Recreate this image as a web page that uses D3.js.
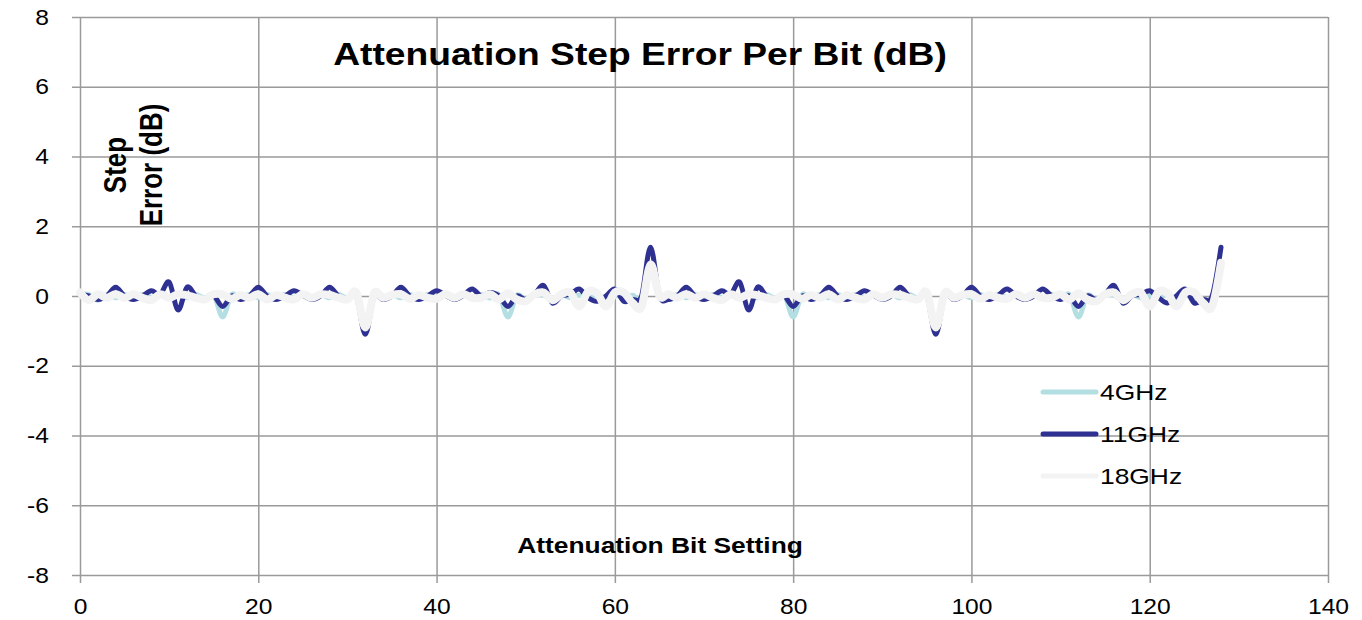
<!DOCTYPE html>
<html>
<head>
<meta charset="utf-8">
<script src="https://cdn.jsdelivr.net/npm/d3@7"></script>
<style>
  body { margin: 0; background: #fff; }
  svg { display: block; font-family: "Liberation Sans", Arial, sans-serif; }
  .axis .domain { display: none; }
  .axis line, .grid-line { stroke: #9a9a9a; stroke-width: 1.5; }
  .axis text { fill: #000; font-size: 22px; }
  .series { fill: none; stroke-linejoin: round; stroke-linecap: round; }
</style>
</head>
<body>
<div id="chart"></div>
<script>
// attenuator bit settings 0..128
var bitSetting = d3.range(0, 129);

var seriesNames = ['4GHz', '11GHz', '18GHz'];

// step error (dB), 16 settings per row
var err4GHz = [
  0.05, 0.04, -0.12, 0.04, -0.05, 0.04, -0.06, 0.04, -0.04, 0.04, -0.05, 0.04, -0.05, 0.04, -0.06, 0.04,
  -0.6, 0.04, -0.06, 0.04, -0.05, 0.04, -0.06, 0.04, -0.04, 0.04, -0.05, 0.04, -0.05, 0.04, -0.06, 0.02,
  -0.8, 0.02, -0.06, 0.04, -0.05, 0.04, -0.06, 0.04, -0.04, 0.04, -0.05, 0.04, -0.05, 0.04, -0.06, 0.04,
  -0.6, 0.02, -0.1, 0.04, 0.02, -0.08, 0.04, -0.05, 0.02, -0.05, 0.04, -0.06, 0.03, -0.05, 0.02, -0.04,
  0.9, 0.04, -0.06, 0.04, -0.05, 0.04, -0.06, 0.04, -0.04, 0.04, -0.05, 0.04, -0.05, 0.04, -0.06, 0.04,
  -0.6, 0.04, -0.06, 0.04, -0.05, 0.04, -0.06, 0.04, -0.04, 0.04, -0.05, 0.04, -0.05, 0.04, -0.06, 0.02,
  -0.8, 0.02, -0.06, 0.04, -0.05, 0.04, -0.06, 0.04, -0.04, 0.04, -0.05, 0.04, -0.05, 0.04, -0.06, 0.04,
  -0.6, 0.02, -0.1, 0.04, 0.02, -0.12, 0.04, -0.05, 0.02, -0.05, 0.04, -0.06, 0.03, -0.08, -0.12, -0.04,
  0.9
];

var err11GHz = [
  0.05, 0, -0.1, 0, 0.25, 0, -0.1, 0, 0.15, 0.05, 0.4, -0.4, 0.25, 0, -0.1, 0,
  -0.3, 0, -0.1, 0, 0.25, 0, -0.1, 0, 0.15, 0.02, -0.1, 0, 0.25, 0, -0.1, 0,
  -1.1, 0, -0.1, 0, 0.25, 0, -0.1, 0, 0.15, 0.02, -0.1, 0.02, 0.2, 0, 0.1, 0,
  -0.3, 0, -0.1, 0.05, 0.3, -0.2, 0, 0.05, 0.2, -0.05, -0.15, 0, 0.2, -0.15, -0.1, 0,
  1.4, 0, -0.1, 0, 0.25, 0, -0.1, 0, 0.15, 0.05, 0.4, -0.4, 0.25, 0, -0.1, 0,
  -0.3, 0, -0.1, 0, 0.25, 0, -0.1, 0, 0.15, 0.02, -0.1, 0, 0.25, 0, -0.1, 0,
  -1.1, 0, -0.1, 0, 0.25, 0, -0.1, 0.02, 0.2, 0, -0.1, 0, 0.2, 0, -0.1, 0,
  -0.3, 0, -0.1, 0.05, 0.3, -0.2, 0, 0.05, 0.15, -0.05, -0.2, 0, 0.2, -0.2, -0.1, 0,
  1.4
];

var err18GHz = [
  0.1, -0.12, 0.05, -0.05, 0.05, -0.05, 0.05, -0.05, -0.12, 0.05, -0.05, 0.05, 0.02, -0.05, -0.1, 0.05,
  0.05, -0.08, 0.03, -0.05, 0.05, -0.1, 0.03, -0.05, -0.1, 0.05, -0.05, 0.05, 0.03, -0.05, -0.1, 0.1,
  -0.9, 0.08, -0.05, 0.03, 0.05, -0.08, 0.03, -0.05, -0.08, 0.05, -0.05, 0.05, -0.05, -0.05, 0.05, -0.1,
  0.08, -0.1, -0.15, 0.05, 0.1, -0.12, 0.05, 0.1, -0.3, 0.12, 0.08, -0.3, 0.1, 0.1, -0.2, -0.3,
  0.9, 0, 0.05, -0.05, 0.05, -0.05, 0.05, -0.05, -0.12, 0.05, -0.05, 0.05, 0.02, -0.05, -0.1, 0.05,
  0.05, -0.08, 0.03, -0.05, 0.05, -0.1, 0.03, -0.05, -0.1, 0.05, -0.05, 0.05, 0.03, -0.05, -0.1, 0.1,
  -0.9, 0.08, -0.05, 0.03, 0.05, -0.08, 0.03, -0.05, -0.08, 0.05, -0.05, 0.05, -0.05, -0.05, 0.05, -0.1,
  0.08, -0.1, -0.15, 0.05, 0.1, -0.12, 0.05, 0.1, -0.3, 0.12, 0.08, -0.3, 0.1, 0.1, -0.2, -0.3,
  0.95
];

var xTicks = [0, 20, 40, 60, 80, 100, 120, 140];
var yTicks = [-8, -6, -4, -2, 0, 2, 4, 6, 8];

var seriesColors = ['#b3dee2', '#2e3192', '#f3f3f3'];
var seriesWidths = [5, 5, 8];

var width = 1362;
var height = 620;
var plotLeft = 80, plotRight = 1328, plotTop = 17, plotBottom = 575;
var stretch = 1.2; // the text in the picture is drawn wide

var svg = d3.select('#chart')
  .append('svg')
  .attr('width', width)
  .attr('height', height);

var scaleX = d3.scaleLinear().domain([0, 140]).range([plotLeft, plotRight]);
var scaleY = d3.scaleLinear().domain([-8, 8]).range([plotBottom, plotTop]);

// plain hyphen for negatives, like the original
var plainNumber = function(d) { return String(d); };

var xAxis = d3.axisBottom(scaleX)
  .tickValues(xTicks)
  .tickFormat(plainNumber)
  .tickSizeInner(8)
  .tickSizeOuter(0)
  .tickPadding(15);
var yAxis = d3.axisLeft(scaleY)
  .tickValues(yTicks)
  .tickFormat(plainNumber)
  .tickSizeInner(8)
  .tickSizeOuter(0)
  .tickPadding(23);

var gX = svg.append('g')
  .attr('class', 'axis axis-x')
  .attr('transform', 'translate(0,' + plotBottom + ')')
  .call(xAxis);
var gY = svg.append('g')
  .attr('class', 'axis axis-y')
  .attr('transform', 'translate(' + plotLeft + ',0)')
  .call(yAxis);

// grid lines hang off the ticks
gX.selectAll('.tick')
  .append('line')
  .attr('class', 'grid-line')
  .attr('y1', 0)
  .attr('y2', plotTop - plotBottom);
gY.selectAll('.tick')
  .append('line')
  .attr('class', 'grid-line')
  .attr('x1', 0)
  .attr('x2', plotRight - plotLeft);

gX.selectAll('.tick text')
  .attr('transform', 'scale(1.12,1)');
gY.selectAll('.tick text')
  .attr('x', -31 / 1.12)
  .attr('transform', 'scale(1.12,1)');

// series
var allSeries = [err4GHz, err11GHz, err18GHz];
var line = d3.line()
  .x(function(d) { return scaleX(d.x); })
  .y(function(d) { return scaleY(d.y); })
  .curve(d3.curveCatmullRom.alpha(0));

allSeries.forEach(function(values, i) {
  var points = bitSetting.map(function(b, j) {
    return { x: b, y: values[j] };
  });
  svg.append('path')
    .attr('class', 'series')
    .attr('d', line(points))
    .attr('stroke', seriesColors[i])
    .attr('stroke-width', seriesWidths[i]);
});

// stretched text helper
function addText(x, y, str, size, weight, anchor, rotate) {
  var t = 'translate(' + x + ',' + y + ') scale(' + stretch + ',1)';
  if (rotate) t += ' rotate(' + rotate + ')';
  return svg.append('text')
    .attr('transform', t)
    .attr('text-anchor', anchor)
    .style('font-size', size + 'px')
    .style('font-weight', weight)
    .style('fill', '#000')
    .text(str);
}

addText(640, 65, 'Attenuation Step Error Per Bit (dB)', 31, 'bold', 'middle');
addText(660, 553, 'Attenuation Bit Setting', 22, 'bold', 'middle');
addText(126, 165, 'Step', 26, 'bold', 'middle', -90);
addText(162, 165, 'Error (dB)', 26, 'bold', 'middle', -90);

// legend
var legendY = [392, 434, 476];
seriesNames.forEach(function(name, i) {
  svg.append('line')
    .attr('x1', 1043)
    .attr('x2', 1096)
    .attr('y1', legendY[i])
    .attr('y2', legendY[i])
    .attr('stroke', seriesColors[i])
    .attr('stroke-width', 5)
    .attr('stroke-linecap', 'round');
  addText(1100, legendY[i] + 8, name, 22, 'normal', 'start');
});
</script>
</body>
</html>
